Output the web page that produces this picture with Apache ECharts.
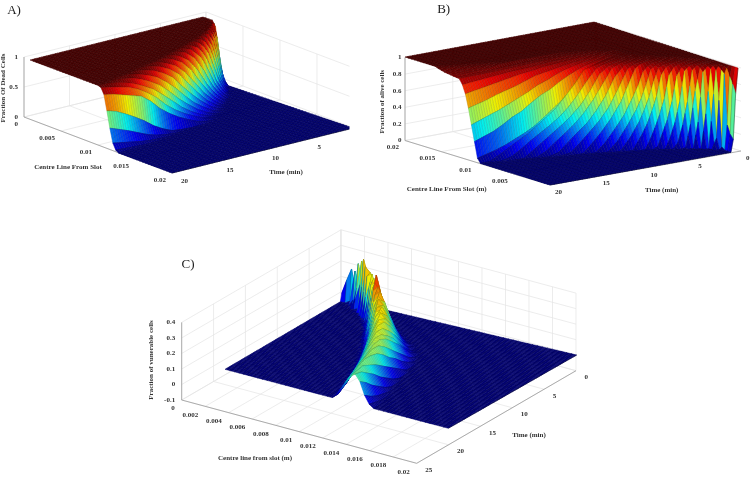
<!DOCTYPE html>
<html>
<head>
<meta charset="utf-8">
<style>html,body{margin:0;background:#fff}#chart{width:750px;height:491px;filter:blur(.45px)}</style>
<script src="https://cdn.jsdelivr.net/npm/echarts@6/dist/echarts.min.js"></script>
</head>
<body>
<div id="chart"></div>
<script>
// mesh shared by the three surfaces (metres, minutes)
const xMesh = [.0008,.0012,.0016,.002,.0024,.0028,.0032,.0036,.004,.0044,.0048,.0052,.0056,.006,.0064,.0068,.0072,.0076,.008,.0084,.0088,.0092,.0096,.01,.0104,.0108,.0112,.0116,.012,.0124,.0128,.0132,.0136,.014,.0144,.0148,.0152,.0156,.016,.0164,.0168,.0172,.0176,.018,.0184,.0188,.0192,.0196,.02];
const tMesh = [0,.25,.5,.75,1,1.5,2,2.5,3,3.5,4,4.5,5,5.5,6,7,8,9,10,11,12,13,14,15,16,17,18,19,20];

// one line per xMesh entry: [first tMesh index that differs from the lead value, values...], last value holds to the end
const deadCols = [[4,1],[4,1],[4,1],[4,1],[4,.91,1],[4,.54,1],[4,.16,.77,1],[4,.01,.36,.83,1],
  [5,.13,.5,.85,1],[5,.01,.23,.55,.84,.97,1],[6,.07,.28,.57,.81,.94,1],[7,.12,.3,.57,.78,.91,.98,1],[7,.02,.15,.32,.54,.74,.87,.95,1],
  [8,.05,.16,.3,.5,.68,.82,.91,1],[9,.06,.16,.29,.46,.63,.77,.93,1],[10,.07,.16,.27,.41,.57,.81,.94,1],[10,.01,.07,.15,.25,.36,.63,.83,.94,1],
  [11,.01,.07,.14,.23,.44,.68,.85,.94,1],[12,.01,.06,.13,.29,.5,.7,.85,.93,1],[13,.02,.06,.18,.35,.54,.73,.85,.93,.98,1],
  [14,.01,.1,.23,.38,.55,.73,.84,.92,.97,1],[15,.04,.14,.25,.4,.57,.71,.83,.9,.96,1],[16,.07,.16,.28,.41,.57,.71,.81,.89,.95,.98,1],
  [16,.02,.09,.18,.29,.43,.57,.7,.79,.87,.93,.97,1],[16,.01,.05,.12,.2,.3,.42,.58,.7,.8,.87,.91,.95,.98],
  [17,.01,.05,.12,.2,.3,.42,.58,.7,.75,.8,.85,.88],[20,.01,.03,.1,.19,.31,.41,.5,.58,.63],[22,.02,.05,.1,.17,.24,.3,.36],
  [23,.01,.02,.04,.07,.1,.13],[26,.01,.02,.03],
  [29],[29],[29],[29],[29],[29],[29],[29],[29],[29],[29],[29],[29],[29],[29],[29],[29],[29],[29]];
const aliveCols = [[1,.7,.15,0],[1,.8,.2,0],[1,.88,.3,0],[1,.97,.9,.03,0],[1,.98,.94,.58,.13,0],[1,.985,.97,.93,.65,0],[1,.99,.98,.97,.94,.41,0],
  [1,.99,.985,.98,.96,.9,.31,0],[2,.99,.985,.975,.94,.67,.28,.01,0],[2,.99,.985,.98,.96,.91,.54,.27,.07,0],
  [3,.99,.985,.97,.95,.9,.54,.3,.13,0],[4,.99,.98,.96,.93,.84,.54,.33,.18,.03,0],[5,.99,.98,.96,.93,.85,.57,.39,.24,.11,0],
  [6,.99,.98,.96,.93,.85,.6,.43,.29,.18,0],[6,.99,.98,.97,.95,.92,.77,.58,.44,.32,.14,0],[7,.99,.98,.97,.94,.9,.72,.57,.45,.27,.11,0],
  [8,.99,.98,.96,.93,.87,.72,.6,.39,.24,.1,0],[9,.99,.98,.97,.95,.91,.79,.54,.37,.23,.11,0],
  [9,.99,.985,.98,.96,.94,.9,.68,.48,.34,.23,.12,.02,0],[10,.99,.985,.975,.96,.94,.82,.61,.45,.32,.23,.13,.03,0],
  [11,.99,.985,.975,.96,.91,.74,.57,.43,.32,.23,.145,.055,0],[11,.99,.985,.98,.97,.93,.85,.67,.52,.41,.32,.24,.16,.08,0],
  [12,.99,.985,.975,.95,.91,.78,.63,.5,.4,.32,.25,.18,.1,.03,0],[12,.99,.985,.98,.96,.93,.9,.75,.62,.5,.41,.33,.25,.19,.125,.06,0],
  [12,.99,.985,.97,.94,.9,.82,.68,.57,.48,.39,.31,.25,.2,.15,.11,.08,.05],
  [12,.99,.985,.97,.95,.92,.88,.83,.77,.7,.65,.58,.5,.45,.38,.32,.28,.24],
  [12,.99,.985,.98,.96,.94,.92,.89,.85,.8,.76,.7,.65,.6,.55,.51,.47,.43],
  [14,.985,.97,.95,.94,.92,.9,.88,.86,.82,.78,.75,.72,.68,.65,.62],
  [14,.99,.98,.97,.96,.95,.94,.93,.91,.9,.88,.86,.84,.82,.8,.78],
  [15,.99,.98,.97,.965,.96,.95,.94,.935,.93,.92,.91,.9,.89,.88],
  [16,.99,.985,.98,.975,.97,.965,.96,.955,.95,.95,.945,.945,.94],
  [17,.99,.985,.98,.975,.97,.965,.96,.955,.95,.95,.945,.945],
  [23,.995,.975,.965,.96,.955,.95],[24,.99,.975,.965,.96,.955],[25,.99,.975,.965,.96],[26,.99,.975,.965],[27,.99,.975],[28,.985],
  [29],[29],[29],[29],[29],[29],[29],[29],[29],[29],[29]];
const vulnCols = [[1,.05,0],[1,.14,0],[1,.22,.02,0],[1,.05,.22,.04,0],[2,.1,.28,.13,0],[2,.03,.15,.31,.02,0],[3,.05,.2,.34,0],[4,.07,.24,.31,0],
  [4,.02,.13,.28,.27,.01,0],[5,.05,.17,.29,.21,.04,0],[6,.07,.17,.28,.25,.07,0],[7,.08,.19,.27,.25,.13,.02,0],
  [7,.02,.08,.17,.26,.27,.18,.07,0],[8,.02,.08,.18,.28,.37,.28,.14,0],[9,.03,.09,.16,.25,.31,.27,.11,0],
  [9,.01,.04,.1,.17,.24,.3,.21,.06,0],[10,.01,.05,.11,.17,.24,.28,.17,.04,0],[11,.01,.05,.11,.16,.25,.26,.15,.04,0],
  [12,.02,.05,.09,.18,.27,.23,.14,.05,0],[13,.02,.05,.14,.22,.26,.2,.13,.06,.01,0],[14,.02,.09,.17,.23,.25,.2,.14,.07,.02,0],
  [14,.01,.05,.12,.19,.24,.24,.19,.13,.08,.03,0],[15,.02,.08,.14,.19,.23,.23,.19,.14,.09,.05,.01,0],
  [16,.04,.09,.15,.19,.22,.22,.19,.15,.11,.07,.03,0],[16,.02,.07,.12,.16,.2,.22,.21,.18,.15,.12,.09,.06,.03],
  [17,.02,.06,.1,.14,.18,.21,.21,.19,.17,.14,.11,.07],[18,.02,.05,.09,.12,.16,.19,.2,.2,.18,.15,.12],
  [20,.03,.06,.09,.12,.15,.17,.19,.18,.17],[22,.02,.05,.08,.12,.15,.18,.19],[24,.02,.05,.08,.12,.15],[25,.01,.02,.04,.07],[27,.01,.02],
  [29],[29],[29],[29],[29],[29],[29],[29],[29],[29],[29],[29],[29],[29],[29],[29],[29]];

// tick labels
const xTicksA = ['0','0.005','0.01','0.015','0.02'];
const tTicksA = ['5','10','15','20'];
const zTicksA = ['0','0.5','1'];
const xTicksB = ['0.005','0.01','0.015','0.02'];
const tTicksB = ['0','5','10','15','20'];
const zTicksB = ['0','0.2','0.4','0.6','0.8','1'];
const xTicksC = ['0','0.002','0.004','0.006','0.008','0.01','0.012','0.014','0.016','0.018','0.02'];
const tTicksC = ['0','5','10','15','20','25'];
const zTicksC = ['-0.1','0','0.1','0.2','0.3','0.4'];

// picture layout of each panel: box = axis cube, sheet = z=0 corners of the surface
// corner names: ll = low x low t, lh = low x high t, hh = high x high t, hl = high x low t
const panels = [
  {
    cols: deadCols, lead: 0, firstRow: 4, colorMax: 1, flip: false, zPx: 60,
    sheet: {ll:[203,77], lh:[30,120], hh:[172,173], hl:[353,128]},
    box: {ll:[206,72], lh:[24,117], hh:[172,173], hl:[354,128], tMax:20, zMin:0, zMax:1, h:60},
    xTicks: xTicksA, tTicks: tTicksA, zTicks: zTicksA,
    xOff:[-6,7], tOff:[9,8], zOff:-6
  },
  {
    cols: aliveCols, lead: 1, firstRow: 0, colorMax: 1, flip: true, zPx: 83,
    sheet: {ll:[738,151], lh:[550,185], hh:[405,140], hl:[594,105]},
    box: {ll:[741,151], lh:[550,185], hh:[405,140.5], hl:[596,105], tMax:20, zMin:0, zMax:1, h:83},
    xTicks: xTicksB, tTicks: tTicksB, zTicks: zTicksB,
    xOff:[-6,7], tOff:[5,7], zOff:-3.5
  },
  {
    cols: vulnCols, lead: 0, firstRow: 0, colorMax: .38, flip: false, zPx: 155.3,
    sheet: {ll:[343.3,300], lh:[225,369.3], hh:[448.3,428.3], hl:[576.7,355]},
    box: {ll:[341,307.4], lh:[181.7,400], hh:[416.7,463.3], hl:[576,370.7], tMax:25, zMin:-.1, zMax:.4, h:77.6},
    xTicks: xTicksC, tTicks: tTicksC, zTicks: zTicksC,
    xOff:[-7,8.5], tOff:[8.5,6.7], zOff:-6.5
  }
];

function jet(v) {
  v = Math.max(0, Math.min(1, v));
  let r = Math.min(1, Math.max(0, 1.5 - Math.abs(4 * v - 3)));
  let g = Math.min(1, Math.max(0, 1.5 - Math.abs(4 * v - 2)));
  let b = Math.min(1, Math.max(0, 1.5 - Math.abs(4 * v - 1)));
  // top of the colour range goes darker than plain jet in this picture
  r *= 1 - .35 * Math.max(0, (v - .85) / .15);
  return [r, g, b];
}
function rgb(c, k) {
  return 'rgb(' + Math.round(c[0] * k) + ',' + Math.round(c[1] * k) + ',' + Math.round(c[2] * k) + ')';
}
function bilinear(q, u, v) {
  let out = [];
  for (let k = 0; k < 2; k++) {
    out[k] = (1 - u) * (1 - v) * q.ll[k] + (1 - u) * v * q.lh[k] + u * v * q.hh[k] + u * (1 - v) * q.hl[k];
  }
  return out;
}
function expand(col, lead) {
  return tMesh.map(function (t, i) {
    if (i < col[0]) return lead;
    return col[Math.min(i - col[0] + 1, col.length - 1)];
  });
}

panels.forEach(function (p) {
  p.table = p.cols.map(function (c) { return expand(c, p.lead); });
  let t0 = tMesh[p.firstRow];
  p.project = function (x, t, z) {
    let a = bilinear(p.sheet, (x - xMesh[0]) / (.02 - xMesh[0]), (t - t0) / (20 - t0));
    return [a[0], a[1] - z * p.zPx];
  };
  p.boxPoint = function (x, t, z) {
    let b = p.box;
    let a = bilinear(b, x / .02, t / b.tMax);
    return [a[0], a[1] - (z - b.zMin) / (b.zMax - b.zMin) * b.h];
  };
});

// one strip of the surface between two neighbouring xMesh lines
function stripItem(p) {
  return function (params, api) {
    let j = api.value(0);
    let near = p.flip ? j : j + 1;
    let children = [];
    let line = [];
    for (let i = p.firstRow; i < tMesh.length - 1; i++) {
      let dt = tMesh[i + 1] - tMesh[i];
      let sub = Math.ceil(dt / .25);
      for (let s = 0; s < sub; s++) {
        let f0 = s / sub, f1 = (s + 1) / sub;
        let ta = tMesh[i] + dt * f0, tb = tMesh[i] + dt * f1;
        let za0 = p.table[j][i] + (p.table[j][i + 1] - p.table[j][i]) * f0;
        let zb0 = p.table[j][i] + (p.table[j][i + 1] - p.table[j][i]) * f1;
        let za1 = p.table[j + 1][i] + (p.table[j + 1][i + 1] - p.table[j + 1][i]) * f0;
        let zb1 = p.table[j + 1][i] + (p.table[j + 1][i + 1] - p.table[j + 1][i]) * f1;
        let pts = [
          api.coord(p.project(xMesh[j], ta, za0)),
          api.coord(p.project(xMesh[j], tb, zb0)),
          api.coord(p.project(xMesh[j + 1], tb, zb1)),
          api.coord(p.project(xMesh[j + 1], ta, za1))
        ];
        let c = jet((za0 + zb0 + za1 + zb1) / 4 / p.colorMax);
        children.push({
          type: 'polygon',
          shape: {points: pts},
          style: {fill: rgb(c, 240), stroke: rgb(c, 195), lineWidth: .5}
        });
        line.push(near === j ? pts[0] : pts[3]);
        if (i === tMesh.length - 2 && s === sub - 1) line.push(near === j ? pts[1] : pts[2]);
      }
    }
    children.push({type: 'polyline', shape: {points: line}, style: {fill: 'none', stroke: 'rgba(0,0,0,0.5)', lineWidth: .6}});
    return {type: 'group', children: children};
  };
}

function frameItem(p) {
  return function (params, api) {
    let b = p.box;
    let kids = [];
    function seg(a, c, color, w) {
      kids.push({type: 'line', shape: {x1: api.coord(a)[0], y1: api.coord(a)[1], x2: api.coord(c)[0], y2: api.coord(c)[1]},
        style: {stroke: color, lineWidth: w}});
    }
    function label(text, at, dx, dy, align) {
      let c = api.coord(at);
      kids.push({type: 'text', style: {text: text, x: c[0] + dx, y: c[1] + dy, align: align, verticalAlign: 'middle',
        font: 'bold 7px "Liberation Serif"', fill: '#333'}});
    }
    let wall = '#e4e4e4', axis = '#9a9a9a';
    let xEnd = p.flip ? .02 : 0;     // wall side of the box
    p.zTicks.forEach(function (s) {
      let z = +s;
      seg(p.boxPoint(xEnd, b.tMax, z), p.boxPoint(xEnd, 0, z), wall, .7);
      seg(p.boxPoint(xEnd, 0, z), p.boxPoint(.02 - xEnd, 0, z), wall, .7);
      label(s, p.boxPoint(xEnd, b.tMax, z), p.zOff, 0, 'right');
    });
    p.xTicks.forEach(function (s) {
      let x = +s;
      seg(p.boxPoint(x, b.tMax, b.zMin), p.boxPoint(x, 0, b.zMin), wall, .7);
      seg(p.boxPoint(x, 0, b.zMin), p.boxPoint(x, 0, b.zMax), wall, .7);
      label(s, p.boxPoint(x, b.tMax, b.zMin), p.xOff[0], p.xOff[1], 'right');
    });
    p.tTicks.forEach(function (s) {
      let t = +s;
      seg(p.boxPoint(0, t, b.zMin), p.boxPoint(.02, t, b.zMin), wall, .7);
      seg(p.boxPoint(xEnd, t, b.zMin), p.boxPoint(xEnd, t, b.zMax), wall, .7);
      label(s, p.boxPoint(.02 - xEnd, t, b.zMin), p.tOff[0], p.tOff[1], 'left');
    });
    seg(p.boxPoint(xEnd, 0, b.zMin), p.boxPoint(xEnd, 0, b.zMax), wall, .7);
    seg(p.boxPoint(0, b.tMax, b.zMin), p.boxPoint(.02, b.tMax, b.zMin), axis, .8);
    seg(p.boxPoint(p.flip ? 0 : .02, b.tMax, b.zMin), p.boxPoint(p.flip ? 0 : .02, 0, b.zMin), axis, .8);
    seg(p.boxPoint(xEnd, b.tMax, b.zMin), p.boxPoint(xEnd, b.tMax, b.zMax), axis, .8);
    return {type: 'group', children: kids};
  };
}

function title(text, x, y, rotate, size, bold) {
  return {
    type: 'text', x: x, y: y, rotation: rotate ? Math.PI / 2 : 0, z: 200,
    style: {text: text, align: 'center', verticalAlign: 'middle', fill: bold ? '#333' : '#222',
      font: (bold ? 'bold ' : '') + size + 'px "Liberation Serif"'}
  };
}

let series = [];
panels.forEach(function (p, n) {
  series.push({
    type: 'custom', coordinateSystem: 'cartesian2d', z: 2 + n * 2, animation: false, silent: true, clip: false,
    renderItem: frameItem(p), data: [[0, 0]], progressive: 0
  });
  series.push({
    type: 'custom', coordinateSystem: 'cartesian2d', z: 3 + n * 2, animation: false, silent: true, clip: false,
    renderItem: stripItem(p), progressive: 0,
    data: xMesh.slice(0, -1).map(function (x, j) { return [j, 0]; }).sort(function (a, b) {
      return p.flip ? b[0] - a[0] : a[0] - b[0];
    })
  });
});

let chart = echarts.init(document.getElementById('chart'));
chart.setOption({
  animation: false,
  grid: {left: 0, right: 0, top: 0, bottom: 0},
  xAxis: {type: 'value', min: 0, max: 750, show: false},
  yAxis: {type: 'value', min: 0, max: 491, inverse: true, show: false},
  series: series,
  graphic: [
    {type: 'rect', z: 100, shape: {x: 349.5, y: 0, width: 22, height: 200}, style: {fill: '#fff'}},
    title('A)', 14, 10.7, false, 13),
    title('B)', 443.7, 9.7, false, 13),
    title('C)', 188, 265, false, 13),
    title('Centre Line From Slot', 68, 167.3, false, 7, true),
    title('Time (min)', 286, 171.7, false, 7, true),
    title('Fraction Of Dead Cells', 3.5, 88, true, 7, true),
    title('Centre Line From Slot (m)', 446.7, 189, false, 7, true),
    title('Time (min)', 661.7, 190.3, false, 7, true),
    title('Fraction of alive cells', 381.7, 101.7, true, 7, true),
    title('Centre line from slot (m)', 255, 458.3, false, 7, true),
    title('Time (min)', 529, 434.7, false, 7, true),
    title('Fraction of vunerable cells', 150.7, 360, true, 7, true)
  ]
});
</script>
</body>
</html>
